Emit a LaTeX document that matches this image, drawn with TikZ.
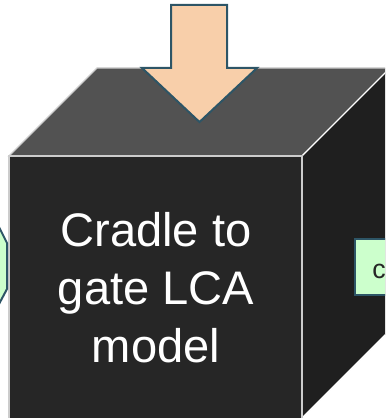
\documentclass[tikz,border=0pt]{standalone}
\usepackage{fontspec}
\setmainfont{Liberation Sans}
\usepackage{xcolor}
\usetikzlibrary{positioning}

\definecolor{topgrey}{HTML}{525252}
\definecolor{frontgrey}{HTML}{262626}
\definecolor{sidegrey}{HTML}{1F1F1F}
\definecolor{peach}{HTML}{F8CFAA}
\definecolor{paleg}{HTML}{CCFFCC}
\definecolor{edgeteal}{HTML}{2D5566}

\begin{document}
\begin{tikzpicture}[x=0.25mm, y=-0.25mm,
    face/.style={draw=white!80!black, line width=0.3mm, line join=miter},
    flowin/.style={draw=edgeteal, fill=peach, line width=0.5mm},
    inbox/.style={draw=edgeteal, fill=paleg, line width=0.5mm}]
      \useasboundingbox (0,0) rectangle (385,418);
      \clip (0,0) rectangle (385,418);

      % cube
      \filldraw[face, fill=topgrey] (9,156) -- (97,68) -- (392,68) -- (302,156) -- cycle;
      \filldraw[face, draw=white, fill=sidegrey] (302,156) -- (390,68) -- (390,330) -- (302,418) -- cycle;
      \filldraw[face, fill=frontgrey] (9,156) rectangle (302,425);

      % arrow from above
      \filldraw[flowin] (171,5) -- (227,5) -- (227,68) -- (257,68) -- (199.5,122) -- (142,68) -- (171,68) -- cycle;

      % flows on the sides
      \filldraw[inbox] (-30,227) -- (-1,227) -- (7,243) -- (7,289) -- (-1,304) -- (-30,304) -- cycle;
      \filldraw[inbox] (355,239) rectangle (440,295);
      \node[anchor=base west, inner sep=0pt, text=frontgrey, font=\fontsize{19}{23}\selectfont] (outtxt) at (372,278) {c};

      \node[text=white, align=center, font=\fontsize{33.5}{41.2}\selectfont] (model) at (156,288) {Cradle to\\gate LCA\\model};
    \end{tikzpicture}
\end{document}
